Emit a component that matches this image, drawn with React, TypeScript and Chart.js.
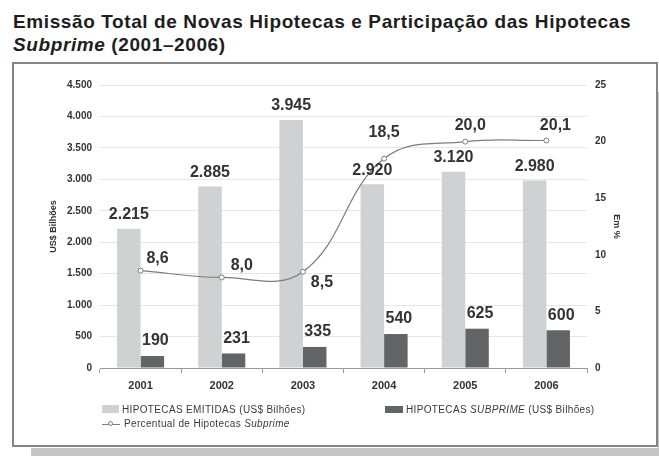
import React, { useEffect, useRef } from "react";
import { Chart, registerables } from "chart.js";

Chart.register(...registerables);

const years = ["2001", "2002", "2003", "2004", "2005", "2006"];
const emitidas = [2215, 2885, 3945, 2920, 3120, 2980];
const subprime = [190, 231, 335, 540, 625, 600];
const percentual = [8.6, 8.0, 8.5, 18.5, 20.0, 20.1];

// label offsets (annotation placement) for the percentage labels
const pctLabelOffsets: [number, number][] = [
  [17, -12],
  [20, -12],
  [19, 11],
  [0, -26],
  [5, -16],
  [9, -15],
];

const FONT = '"Liberation Sans", Arial, Helvetica, sans-serif';
const LIGHT = "#d0d1d3";
const DARK = "#636466";
const LINE = "#7d7d7d";
const TEXT = "#333333";

const fmtThousands = (n: number) =>
  String(n).replace(/\B(?=(\d{3})+(?!\d))/g, ".");
const fmtPct = (n: number) => n.toFixed(1).replace(".", ",");

const labelsPlugin = {
  id: "valueLabels",
  afterDatasetsDraw(chart: any) {
    const ctx = chart.ctx;
    ctx.save();
    ctx.font = `bold 16px ${FONT}`;
    ctx.fillStyle = TEXT;
    ctx.textAlign = "center";
    ctx.textBaseline = "middle";
    chart.data.datasets.forEach((ds: any, di: number) => {
      const meta = chart.getDatasetMeta(di);
      meta.data.forEach((el: any, i: number) => {
        const v = ds.data[i];
        if (ds.type === "line") {
          const [dx, dy] = pctLabelOffsets[i];
          ctx.fillText(fmtPct(v), el.x + dx, el.y + dy);
        } else if (di === 0) {
          ctx.fillText(fmtThousands(v), el.x, el.y - 14);
        } else {
          ctx.fillText(fmtThousands(v), el.x + 3, el.y - 15);
        }
      });
    });
    ctx.restore();
  },
};

export default function App() {
  const canvasRef = useRef<HTMLCanvasElement | null>(null);

  useEffect(() => {
    const canvas = canvasRef.current;
    if (!canvas) return;
    const chart = new Chart(canvas, {
      type: "bar",
      data: {
        labels: years,
        datasets: [
          {
            type: "bar",
            label: "HIPOTECAS EMITIDAS (US$ Bilhões)",
            data: emitidas,
            backgroundColor: LIGHT,
            yAxisID: "y",
            order: 2,
            categoryPercentage: 0.58,
            barPercentage: 1,
          },
          {
            type: "bar",
            label: "HIPOTECAS SUBPRIME (US$ Bilhões)",
            data: subprime,
            backgroundColor: DARK,
            yAxisID: "y",
            order: 2,
            categoryPercentage: 0.58,
            barPercentage: 1,
          },
          {
            type: "line",
            label: "Percentual de Hipotecas Subprime",
            data: percentual,
            borderColor: LINE,
            borderWidth: 1.2,
            backgroundColor: "#ffffff",
            pointBackgroundColor: "#ffffff",
            pointBorderColor: LINE,
            pointBorderWidth: 1,
            pointRadius: 2.5,
            tension: 0.4,
            yAxisID: "y1",
            order: 0,
          } as any,
        ],
      },
      options: {
        animation: false,
        responsive: false,
        maintainAspectRatio: false,
        layout: { padding: { left: 44, right: 33, top: 85, bottom: 58 } },
        plugins: {
          legend: { display: false },
          tooltip: { enabled: false },
          title: { display: false },
        },
        scales: {
          x: {
            offset: true,
            grid: {
              display: true,
              drawOnChartArea: false,
              drawTicks: true,
              tickLength: 5,
              color: "#9a9a9a",
              offset: true,
            },
            border: { display: true, color: "#9a9a9a", width: 1 },
            ticks: {
              color: TEXT,
              font: { family: FONT, size: 11, weight: "bold" },
              padding: 6,
            },
            afterFit(scale: any) {
              scale.height = 30;
            },
          },
          y: {
            position: "left",
            min: 0,
            max: 4500,
            grid: { color: "#e6e6e6", lineWidth: 1, drawTicks: false },
            border: { display: false },
            ticks: {
              stepSize: 500,
              color: TEXT,
              padding: 8,
              font: { family: FONT, size: 10, weight: "bold" },
              callback: (v: any) => fmtThousands(Number(v)),
            },
            title: {
              display: true,
              text: "US$ Bilhões",
              color: TEXT,
              font: { family: FONT, size: 9, weight: "bold" },
              padding: { top: 4, bottom: 4 },
            },
            afterFit(scale: any) {
              scale.width = 56;
            },
          },
          y1: {
            position: "right",
            min: 0,
            max: 25,
            grid: { drawOnChartArea: false, drawTicks: false },
            border: { display: false },
            ticks: {
              stepSize: 5,
              color: TEXT,
              padding: 8,
              font: { family: FONT, size: 10, weight: "bold" },
            },
            title: {
              display: true,
              text: "Em %",
              color: TEXT,
              font: { family: FONT, size: 9, weight: "bold" },
              padding: { top: 4, bottom: 4 },
            },
            afterFit(scale: any) {
              scale.width = 39;
            },
          },
        },
      } as any,
      plugins: [labelsPlugin],
    });
    return () => chart.destroy();
  }, []);

  const legendText: React.CSSProperties = {
    position: "absolute",
    fontFamily: FONT,
    fontSize: 10,
    lineHeight: "12px",
    letterSpacing: "0.35px",
    color: "#3a3a3a",
    whiteSpace: "nowrap",
  };

  return (
    <div
      style={{
        position: "absolute",
        left: 0,
        top: 0,
        width: 659,
        height: 456,
        background: "#ffffff",
        overflow: "hidden",
      }}
    >
      <div
        style={{
          position: "absolute",
          left: 13,
          top: 10,
          fontFamily: FONT,
          fontWeight: "bold",
          fontSize: 19,
          letterSpacing: "0.6px",
          lineHeight: "23px",
          color: "#1e1e1e",
          whiteSpace: "nowrap",
        }}
      >
        Emissão Total de Novas Hipotecas e Participação das Hipotecas
        <br />
        <i>Subprime</i> (2001–2006)
      </div>
      {/* shadow */}
      <div style={{ position: "absolute", left: 31, top: 448, width: 628, height: 8, background: "#c6c6c6" }} />
      <div style={{ position: "absolute", left: 658, top: 92, width: 1, height: 364, background: "#c6c6c6" }} />
      {/* frame */}
      <div
        style={{
          position: "absolute",
          left: 12,
          top: 62,
          width: 646,
          height: 385,
          border: "2px solid #858585",
          boxSizing: "border-box",
          background: "#ffffff",
        }}
      />
      <canvas
        ref={canvasRef}
        width={659}
        height={456}
        style={{ position: "absolute", left: 0, top: 0, width: 659, height: 456 }}
      />
      {/* legend */}
      <div style={{ position: "absolute", left: 102, top: 405, width: 17, height: 8, background: LIGHT }} />
      <div style={{ ...legendText, left: 122, top: 404 }}>HIPOTECAS EMITIDAS (US$ Bilhões)</div>
      <div style={{ position: "absolute", left: 385, top: 406, width: 18, height: 7, background: DARK }} />
      <div style={{ ...legendText, left: 406, top: 404 }}>
        HIPOTECAS <i>SUBPRIME</i> (US$ Bilhões)
      </div>
      <div style={{ position: "absolute", left: 102, top: 424, width: 18, height: 1, background: LINE }} />
      <div
        style={{
          position: "absolute",
          left: 108,
          top: 421,
          width: 5,
          height: 5,
          borderRadius: "50%",
          border: `1px solid ${LINE}`,
          background: "#ffffff",
          boxSizing: "border-box",
        }}
      />
      <div style={{ ...legendText, left: 124, top: 418 }}>
        Percentual de Hipotecas <i>Subprime</i>
      </div>
    </div>
  );
}
